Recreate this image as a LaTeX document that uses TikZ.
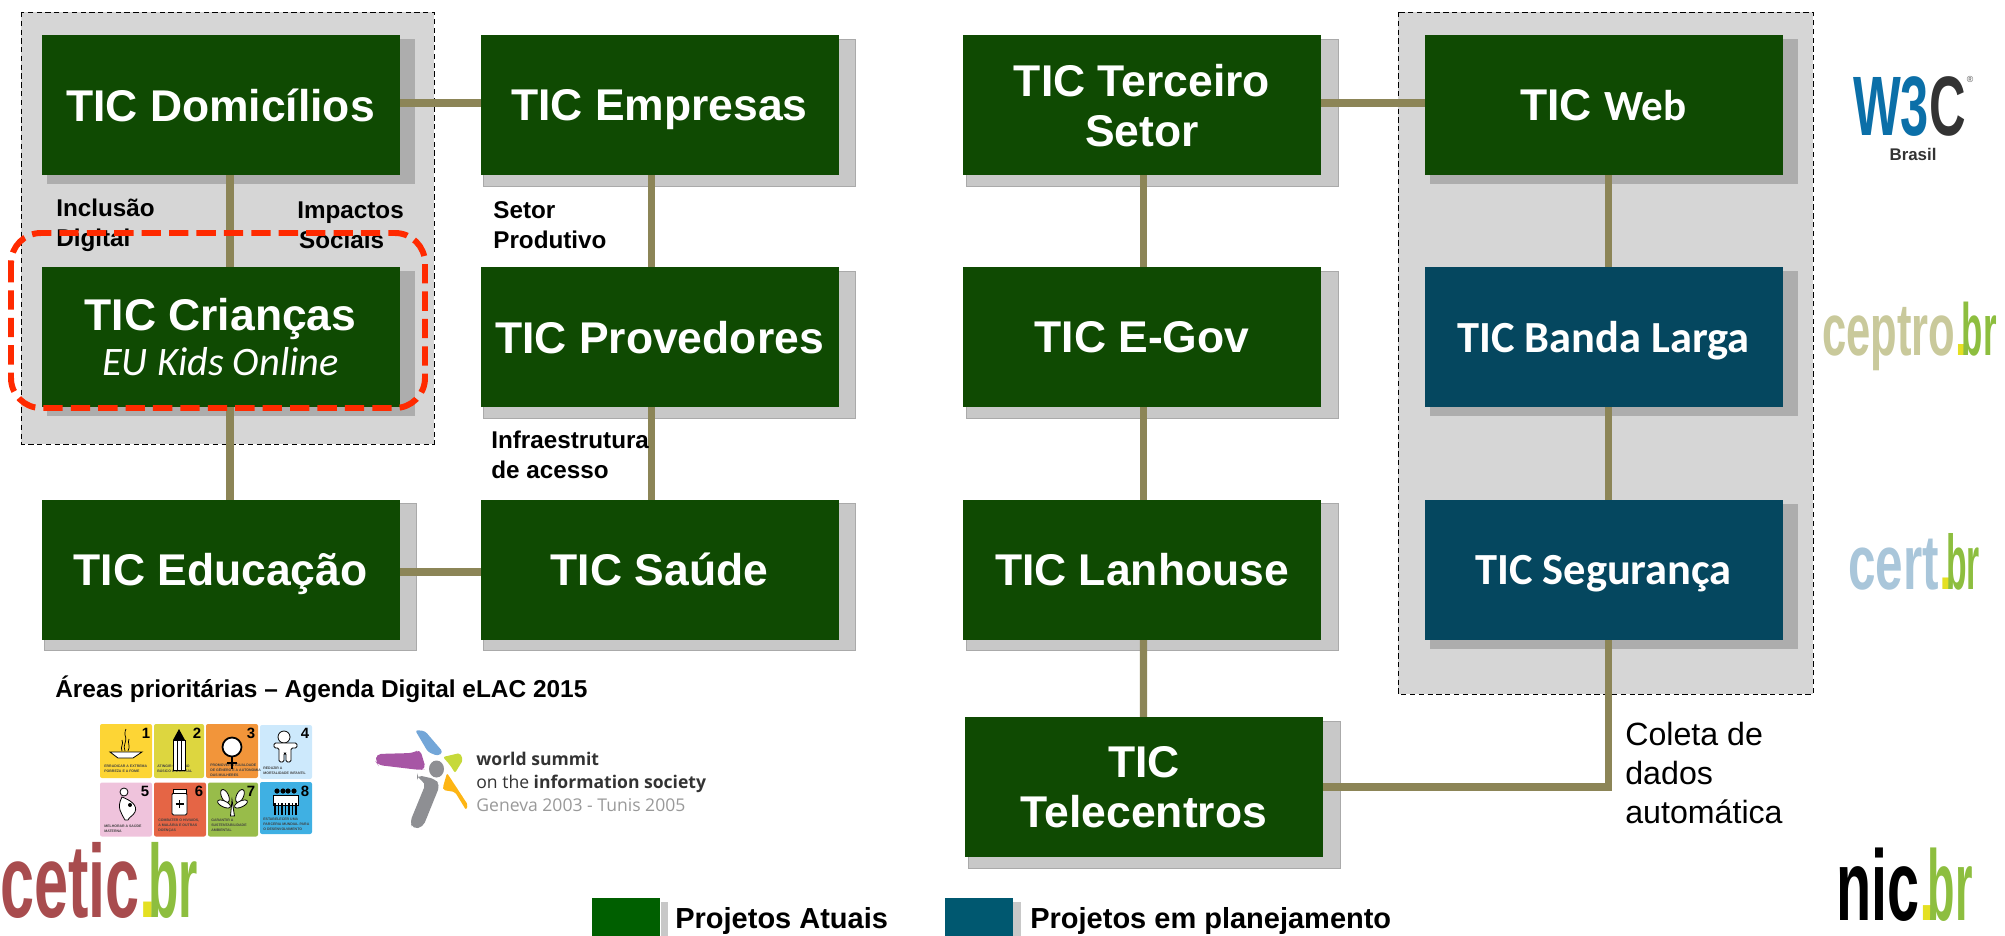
\documentclass[tikz,border=0pt]{standalone}
\usepackage{fontspec}
\setmainfont{Liberation Sans}
\newfontfamily\carlitofont{Carlito}
\newfontfamily\wsisfont{Open Sans}
\usepackage{graphicx}
\usepackage{xcolor}
\usepackage{tikz}
\usetikzlibrary{backgrounds}

\definecolor{ticgreen}{HTML}{0F4A02}
\definecolor{ticblue}{HTML}{05475F}
\definecolor{legendgreen}{HTML}{005F00}
\definecolor{legendblue}{HTML}{005870}
\definecolor{linkolive}{HTML}{8C8557}
\definecolor{panelgray}{HTML}{D6D6D6}
\definecolor{shadowdark}{HTML}{ADADAD}
\definecolor{shadowlight}{HTML}{C8C8C8}
\definecolor{redmark}{HTML}{FF2A00}
\definecolor{ceticred}{HTML}{A84C4E}
\definecolor{brgreen}{HTML}{8DBE3F}
\definecolor{brdot}{HTML}{E4E022}
\definecolor{ceptrotan}{HTML}{C9C99B}
\definecolor{certblue}{HTML}{A9C6DA}
\definecolor{wcblue}{HTML}{0B6FA8}
\definecolor{wsisgray}{HTML}{8E8F93}

\newcommand{\brend}[1]{\textcolor{brdot}{.}\hspace{-0.13em}\textcolor{brgreen}{\scalebox{#1}[1]{br}}}

\tikzset{
  ticbox/.style={minimum width=358*0.02cm, minimum height=140*0.02cm, inner sep=0pt, outer sep=0pt, text=white, text depth=0pt, align=center, font=\fontsize{25.3}{28.5}\selectfont\bfseries},
  greenbox/.style={ticbox, fill=ticgreen},
  bluebox/.style={ticbox, fill=ticblue},
  ticpanel/.style={fill=panelgray, draw=black, line width=0.5pt, dash pattern=on 3pt off 2pt},
  ticlink/.style={linkolive, line width=4pt},
  shadowin/.style={fill=shadowdark},
  shadowout/.style={fill=shadowlight, draw=shadowlight!85!black, line width=0.3pt},
  sidelabel/.style={anchor=west, inner sep=0pt, align=left, font=\fontsize{13.8}{17}\selectfont\bfseries},
  legendbox/.style={minimum width=68*0.02cm, minimum height=38*0.02cm, inner sep=0pt, outer sep=0pt},
  legendtext/.style={anchor=west, inner sep=0pt, font=\fontsize{16.5}{20}\selectfont\bfseries},
  brlogo/.style={anchor=base west, inner sep=0pt, font=\bfseries},
  mdgtile/.style={minimum width=52*0.02cm, minimum height=54*0.02cm, inner sep=0pt, outer sep=0pt, rounded corners=0.04cm},
  mdgnum/.style={inner sep=0pt, font=\fontsize{8.5}{9}\selectfont\bfseries},
  mdgtext/.style={anchor=north west, inner sep=0pt, align=left, text=black!75, font=\fontsize{2}{2.8}\selectfont\bfseries},
  mdgicon/.style={fill=white, draw=black, line width=0.45pt},
  wsistext/.style={anchor=base west, inner sep=0pt, font=\wsisfont\fontsize{10}{11}\selectfont}
}

\begin{document}
\begin{tikzpicture}[x=0.02cm, y=-0.02cm]

\useasboundingbox (0,0) rectangle (2005,936);

\node (dom) at (220.5,105) [greenbox] {TIC Domicílios};
\node (cri) at (220.5,337) [greenbox] {TIC Crianças\\[-3pt]{\carlitofont\mdseries\itshape\fontsize{23}{24}\selectfont EU Kids Online}};
\node (edu) at (220.5,569.5) [greenbox] {TIC Educação};

\node (emp) at (659.5,105) [greenbox] {TIC Empresas};
\node (pro) at (659.5,337) [greenbox] {TIC Provedores};
\node (sau) at (659.5,569.5) [greenbox] {TIC Saúde};

\node (ter) at (1142,105) [greenbox] {TIC Terceiro\\Setor};
\node (gov) at (1142,337) [greenbox] {TIC E-Gov};
\node (lan) at (1142,569.5) [greenbox] {TIC Lanhouse};
\node (tel) at (1144,787) [greenbox] {TIC\\Telecentros};

\node (web) at (1603.5,105) [greenbox] {TIC {\carlitofont\fontsize{24.5}{28}\selectfont Web}};
\node (ban) at (1603.5,337) [bluebox] {\carlitofont TIC Banda Larga};
\node (seg) at (1603.5,569.5) [bluebox] {\carlitofont TIC Segurança};

\begin{scope}[on background layer]

\draw[ticpanel] (21,12) rectangle (434,444);
\draw[ticpanel] (1398,12) rectangle (1813,694);

\fill[shadowin] ([shift={(5,4)}]dom.north west) rectangle ([shift={(15,9)}]dom.south east);
\fill[shadowin] ([shift={(5,4)}]cri.north west) rectangle ([shift={(15,9)}]cri.south east);
\fill[shadowin] ([shift={(5,4)}]web.north west) rectangle ([shift={(15,9)}]web.south east);
\fill[shadowin] ([shift={(5,4)}]ban.north west) rectangle ([shift={(15,9)}]ban.south east);
\fill[shadowin] ([shift={(5,4)}]seg.north west) rectangle ([shift={(15,9)}]seg.south east);

\path[shadowout] ([shift={(3,4)}]edu.north west) rectangle ([shift={(17,11)}]edu.south east);
\path[shadowout] ([shift={(3,4)}]emp.north west) rectangle ([shift={(17,11)}]emp.south east);
\path[shadowout] ([shift={(3,4)}]pro.north west) rectangle ([shift={(17,11)}]pro.south east);
\path[shadowout] ([shift={(3,4)}]sau.north west) rectangle ([shift={(17,11)}]sau.south east);
\path[shadowout] ([shift={(3,4)}]ter.north west) rectangle ([shift={(17,11)}]ter.south east);
\path[shadowout] ([shift={(3,4)}]gov.north west) rectangle ([shift={(17,11)}]gov.south east);
\path[shadowout] ([shift={(3,4)}]lan.north west) rectangle ([shift={(17,11)}]lan.south east);
\path[shadowout] ([shift={(3,4)}]tel.north west) rectangle ([shift={(17,11)}]tel.south east);

\draw[ticlink] ([shift={(9.5,0)}]dom.south) -- ([shift={(9.5,0)}]cri.north);
\draw[ticlink] ([shift={(9.5,0)}]cri.south) -- ([shift={(9.5,0)}]edu.north);
\draw[ticlink] ([shift={(-8,0)}]emp.south) -- ([shift={(-8,0)}]pro.north);
\draw[ticlink] ([shift={(-8,0)}]pro.south) -- ([shift={(-8,0)}]sau.north);
\draw[ticlink] ([shift={(1.5,0)}]ter.south) -- ([shift={(1.5,0)}]gov.north);
\draw[ticlink] ([shift={(1.5,0)}]gov.south) -- ([shift={(1.5,0)}]lan.north);
\draw[ticlink] ([shift={(1.5,0)}]lan.south) -- ([shift={(-0.5,0)}]tel.north);
\draw[ticlink] ([shift={(4.5,0)}]web.south) -- ([shift={(4.5,0)}]ban.north);
\draw[ticlink] ([shift={(4.5,0)}]ban.south) -- ([shift={(4.5,0)}]seg.north);

\draw[ticlink] ([shift={(0,-2)}]dom.east) -- ([shift={(0,-2)}]emp.west);
\draw[ticlink] ([shift={(0,-2)}]ter.east) -- ([shift={(0,-2)}]web.west);
\draw[ticlink] ([shift={(0,2.5)}]edu.east) -- ([shift={(0,2.5)}]sau.west);
\draw[ticlink] (tel.east) -| ([shift={(4.5,0)}]seg.south);

\end{scope}

\node (inclusao) at (56,225) [sidelabel] {Inclusão\\Digital};
\node (impactos) at (297,225) [sidelabel] {Impactos\\\hspace{1pt}Sociais};
\node (setor) at (493,225) [sidelabel] {Setor\\Produtivo};
\node (infra) at (491,455) [sidelabel] {Infraestrutura\\de acesso};

\draw[redmark, line width=3.4pt, dash pattern=on 11pt off 4.6pt, rounded corners=0.6cm] (11,233) rectangle (425,408);

\node (coleta) at (1625,773) [anchor=west, inner sep=0pt, align=left, font=\fontsize{18.3}{22}\selectfont] {Coleta de\\dados\\automática};

\node (areas) at (55,689) [anchor=west, inner sep=0pt, font=\fontsize{13.9}{16}\selectfont\bfseries] {Áreas prioritárias – Agenda Digital eLAC 2015};

\fill[shadowlight] (661,902) rectangle (668,936);
\fill[shadowlight] (1013,902) rectangle (1021,936);

\node (legatual) at (626,917) [legendbox, fill=legendgreen] {};
\node (legplan) at (979,917) [legendbox, fill=legendblue] {};
\node (legatualtxt) at (675,921) [legendtext] {Projetos Atuais};
\node (legplantxt) at (1030,921) [legendtext] {Projetos em planejamento};

\node (ceticlogo) at (0,917) [brlogo, xscale=0.59] {\fontsize{59}{60}\selectfont\textcolor{ceticred}{cetic}\brend{0.81}};
\node (niclogo) at (1836,920) [brlogo, xscale=0.575] {\fontsize{57}{58}\selectfont nic\brend{0.78}};
\node (certlogo) at (1848,589) [brlogo, xscale=0.64] {\fontsize{44}{45}\selectfont\textcolor{certblue}{cert}\brend{0.68}};
\node (ceptrologo) at (1822,355) [brlogo, xscale=0.59] {\fontsize{42}{43}\selectfont\textcolor{ceptrotan}{ceptro}\brend{0.8}};

\node (wclogo) at (1853,135) [brlogo, xscale=0.6] {\fontsize{48}{49}\selectfont\textcolor{wcblue}{W3}\textcolor{black!80}{C}};
\node (wcmark) at (1970,79) [inner sep=0pt, text=black!70, font=\fontsize{5}{5}\selectfont] {®};
\node (wcbrasil) at (1913,154) [inner sep=0pt, text=black!80, font=\fontsize{9.6}{10}\selectfont\bfseries] {Brasil};

\node (mdga) at (126,751) [mdgtile, fill={rgb,255:red,253;green,213;blue,53}] {};
\node (mdgb) at (179,751) [mdgtile, fill={rgb,255:red,221;green,214;blue,63}, minimum width=50*0.02cm] {};
\node (mdgc) at (232,751) [mdgtile, fill={rgb,255:red,242;green,149;blue,58}] {};
\node (mdgd) at (286,752) [mdgtile, fill={rgb,255:red,205;green,233;blue,252}] {};
\node (mdge) at (126,809.5) [mdgtile, fill={rgb,255:red,239;green,195;blue,220}] {};
\node (mdgf) at (180,809.5) [mdgtile, fill={rgb,255:red,229;green,101;blue,69}] {};
\node (mdgg) at (233,809.5) [mdgtile, fill={rgb,255:red,152;green,188;blue,74}, minimum width=50*0.02cm] {};
\node (mdgh) at (286,808) [mdgtile, fill={rgb,255:red,63;green,176;blue,227}, minimum height=52*0.02cm] {};

\node (numa) at (146,733) [mdgnum] {1};
\node (numb) at (197,733) [mdgnum] {2};
\node (numc) at (251,733) [mdgnum] {3};
\node (numd) at (305,733) [mdgnum] {4};
\node (nume) at (145,791) [mdgnum] {5};
\node (numf) at (199,791) [mdgnum] {6};
\node (numg) at (251,791) [mdgnum] {7};
\node (numh) at (305,791) [mdgnum] {8};

\node (txta) at (104,764.5) [mdgtext] {ERRADICAR A EXTREMA\\POBREZA E A FOME};
\node (txtb) at (157,765) [mdgtext] {ATINGIR O ENSINO\\BÁSICO UNIVERSAL};
\node (txtc) at (210,764) [mdgtext] {PROMOVER A IGUALDADE\\DE GÊNERO E A AUTONOMIA\\DAS MULHERES};
\node (txtd) at (263,767) [mdgtext] {REDUZIR A\\MORTALIDADE INFANTIL};
\node (txte) at (104,824) [mdgtext] {MELHORAR A SAÚDE\\MATERNA};
\node (txtf) at (158,819) [mdgtext] {COMBATER O HIV/AIDS,\\A MALÁRIA E OUTRAS\\DOENÇAS};
\node (txtg) at (211,819) [mdgtext] {GARANTIR A\\SUSTENTABILIDADE\\AMBIENTAL};
\node (txth) at (263,818) [mdgtext] {ESTABELECER UMA\\PARCERIA MUNDIAL PARA\\O DESENVOLVIMENTO};

\draw[black, line width=0.4pt] (125,751) .. controls (122,745) and (128,742) .. (125,735) .. controls (124,732) and (126,730) .. (126,729);
\draw[black, line width=0.4pt] (122,751) .. controls (120,747) and (124,744) .. (122,740);
\draw[black, line width=0.4pt] (128,751) .. controls (131,746) and (127,743) .. (129,739);
\draw[mdgicon] (110,752) -- (142,752) -- (133,758) -- (118,758) -- cycle;

\draw[mdgicon] (173,740) -- (185,740) -- (185,770) -- (173,770) -- cycle;
\fill[black] (173,740) -- (179,729) -- (185,740) -- cycle;
\draw[black, line width=0.4pt] (177,740) -- (177,770) (181,740) -- (181,770);

\draw[mdgicon, line width=1pt] (232,747) circle (9.5);
\draw[black, line width=1pt] (232,757) -- (232,769) (227,763) -- (237,763);

\draw[mdgicon] (284,737) circle (6);
\draw[mdgicon, rounded corners=0.03cm] (274,743) -- (297,743) -- (297,748) -- (291,748) -- (291,762) -- (286,762) -- (286,753) -- (284,753) -- (284,762) -- (279,762) -- (279,748) -- (274,748) -- cycle;

\draw[mdgicon] (124,792) circle (4);
\draw[mdgicon] (122,797) .. controls (130,800) and (138,805) .. (135,812) .. controls (133,816) and (129,817) .. (128,820) -- (125,820) .. controls (122,814) and (116,808) .. (122,797) -- cycle;
\fill[black] (130,805) circle (2);

\draw[mdgicon, rounded corners=0.03cm] (172,793) rectangle (187,815);
\draw[mdgicon] (173,789) rectangle (186,793);
\draw[black, line width=1pt] (179.5,800) -- (179.5,808) (175.5,804) -- (183.5,804);

\draw[mdgicon, rotate around={25:(225,796)}] (225,796) ellipse (3.5 and 7);
\draw[mdgicon, rotate around={-25:(240,796)}] (240,796) ellipse (3.5 and 7);
\draw[mdgicon, rotate around={65:(224,804)}] (224,804) ellipse (3 and 7);
\draw[mdgicon, rotate around={-65:(241,804)}] (241,804) ellipse (3 and 7);
\draw[mdgicon] (232,800) -- (230.5,816) -- (234.5,816) -- cycle;

\fill[black] (277,791) circle (2.6);
\fill[black] (283,791) circle (2.6);
\fill[black] (288,791) circle (2.6);
\fill[black] (294,791) circle (2.6);
\draw[mdgicon] (273,795) rectangle (298,805);
\draw[black, line width=7pt, dash pattern=on 1pt off 1pt] (274,809) -- (298,809);

\fill[wsisgray] (436.5,769) ellipse (7.5 and 8.5);

\fill[rounded corners=0.06cm, color={rgb,255:red,115;green,166;blue,216}] (415,730) -- (425,731) -- (443,752) -- (438,756) -- (428,752) -- cycle;
\fill[rounded corners=0.1cm, color={rgb,255:red,167;green,86;blue,165}] (376,762) -- (376,754) -- (413,753) -- (420,749) -- (426,769) -- (420,770) -- (378,765) -- cycle;
\fill[rounded corners=0.04cm, color={rgb,255:red,198;green,217;blue,58}] (443,757) -- (460,753) -- (463,760) -- (455,773) -- (450,765) -- cycle;
\fill[rounded corners=0.1cm, color=wsisgray] (417,775) -- (435,779) -- (440,785) -- (423,827) -- (413,829) -- (410,822) -- (426,783) -- (417,778) -- cycle;
\fill[rounded corners=0.04cm, color={rgb,255:red,253;green,181;blue,21}] (447,773) -- (468,805) -- (466,810) -- (455,792) -- (443,790) -- (443,787) -- cycle;

\node (wsisa) at (476,765) [wsistext, text=black!80] {\textbf{world summit}};
\node (wsisb) at (476,788) [wsistext, text=black!80] {on the \textbf{information society}};
\node (wsisc) at (476,811) [wsistext, text=black!40] {Geneva 2003 - Tunis 2005};

\end{tikzpicture}
\end{document}
